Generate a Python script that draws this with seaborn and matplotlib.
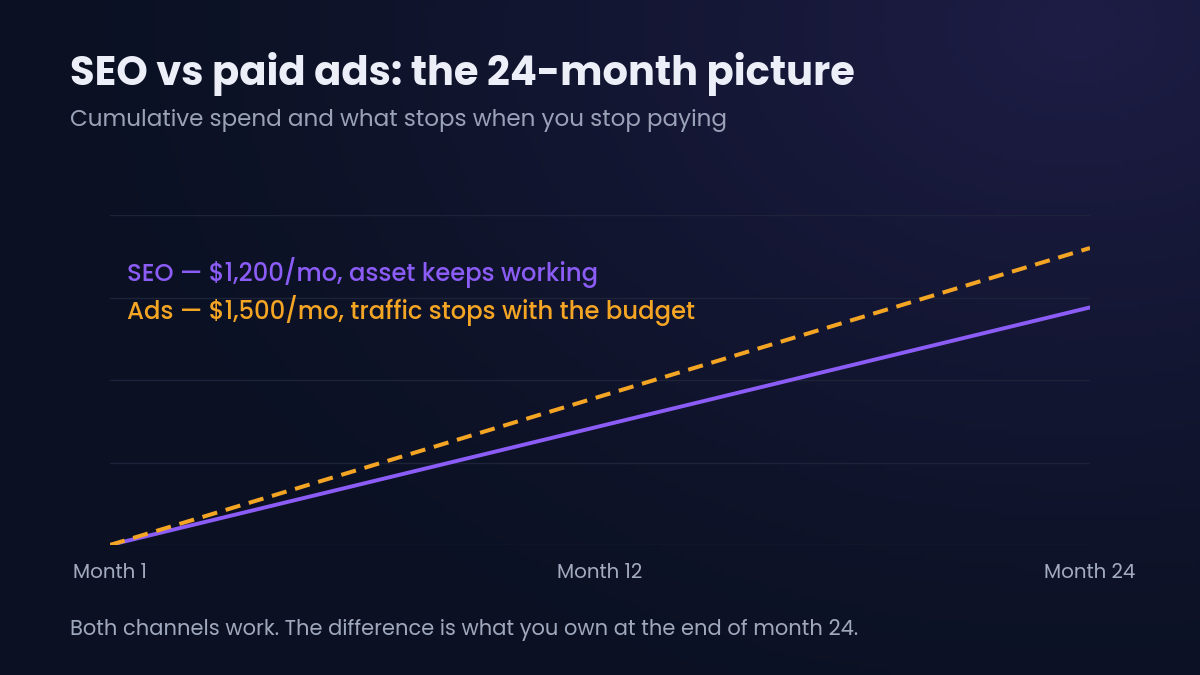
import numpy as np
import matplotlib
matplotlib.use("Agg")
import matplotlib.pyplot as plt
import seaborn as sns
import pandas as pd
from matplotlib.colors import to_rgb

# Data: cumulative spend
months = [0, 12, 24]
month_labels = ["Month 1", "Month 12", "Month 24"]
seo_spend = [0, 14400, 28800]
ads_spend = [0, 18000, 36000]
y_grid = [0, 10000, 20000, 30000, 40000]

title = "SEO vs paid ads: the 24-month picture"
subtitle = "Cumulative spend and what stops when you stop paying"
seo_label = "SEO — $1,200/mo, asset keeps working"
ads_label = "Ads — $1,500/mo, traffic stops with the budget"
footer = "Both channels work. The difference is what you own at the end of month 24."

SEO_COLOR = "#8B5CF6"
ADS_COLOR = "#F5A524"
BG = "#0b1123"
GLOW = "#1e1d46"

sns.set_theme(style="dark")
plt.rcParams["font.family"] = ["Poppins", "Lato", "DejaVu Sans"]

df = pd.DataFrame({
    "month": months * 2,
    "spend": seo_spend + ads_spend,
    "channel": ["SEO"] * len(months) + ["Ads"] * len(months),
})

fig = plt.figure(figsize=(12, 6.75), dpi=100)

# background with soft glow in the top-right corner
bg_ax = fig.add_axes([0, 0, 1, 1], zorder=0)
h, w = 135, 240
yy, xx = np.mgrid[0:h, 0:w]
d = np.sqrt(((xx - 215) / 210.0) ** 2 + ((yy - 5) / 150.0) ** 2)
t = np.clip(1 - d, 0, 1) ** 1.4
base = np.array(to_rgb(BG))
glow = np.array(to_rgb(GLOW))
img = base[None, None, :] * (1 - t[..., None]) + glow[None, None, :] * t[..., None]
bg_ax.imshow(img, aspect="auto", extent=[0, 1, 0, 1], origin="upper")
bg_ax.axis("off")

ax = fig.add_axes([110 / 1200, 130 / 675, 980 / 1200, 330 / 675], zorder=1)
ax.patch.set_alpha(0)

sns.lineplot(data=df[df.channel == "SEO"], x="month", y="spend", color=SEO_COLOR,
             linewidth=2.8, ax=ax, zorder=3)
sns.lineplot(data=df[df.channel == "Ads"], x="month", y="spend", color=ADS_COLOR,
             linewidth=2.9, linestyle=(0, (3.8, 2.2)), ax=ax, zorder=4)

ax.set_xlim(months[0], months[-1])
ax.set_ylim(y_grid[0], y_grid[-1])
ax.set_yticks(y_grid)
ax.set_yticklabels([])
ax.set_xticks(months)
ax.set_xticklabels(month_labels, color="#a3abc0", fontsize=14.3)
ax.tick_params(axis="x", length=0, pad=13)
ax.tick_params(axis="y", length=0)
ax.set_xlabel("")
ax.set_ylabel("")
ax.grid(axis="y", color="#1d2439", linewidth=1)
ax.grid(axis="x", visible=False)
for s in ax.spines.values():
    s.set_visible(False)

ax.text(17 / 980, 1 - 57 / 330, seo_label, transform=ax.transAxes, color=SEO_COLOR,
        fontsize=17.5, fontweight="medium", va="center", ha="left")
ax.text(17 / 980, 1 - 96 / 330, ads_label, transform=ax.transAxes, color=ADS_COLOR,
        fontsize=17.5, fontweight="medium", va="center", ha="left")

fig.text(70 / 1200, 1 - 74 / 675, title, color="#eceef8", fontsize=28.8,
         fontweight="bold", va="center", ha="left")
fig.text(70 / 1200, 1 - 121 / 675, subtitle, color="#9aa2b8", fontsize=16.6,
         va="center", ha="left")
fig.text(70 / 1200, 1 - 630 / 675, footer, color="#a0a8bd", fontsize=15.1,
         va="center", ha="left")

fig.savefig("out.png", dpi=100, facecolor=BG)
